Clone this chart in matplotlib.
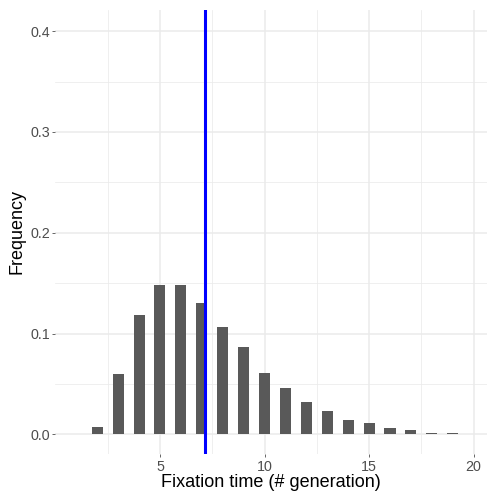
import matplotlib
matplotlib.use("Agg")
import matplotlib.pyplot as plt
import numpy as np

# distribution of fixation times
fix_time = list(range(2, 20))
freq = [0.0075, 0.060, 0.118, 0.148, 0.148, 0.130, 0.1065, 0.0867, 0.0608,
        0.046, 0.032, 0.023, 0.0142, 0.0112, 0.0063, 0.0043, 0.0013, 0.0013]
mean_time = 7.17

x_major = [5, 10, 15, 20]
x_minor = [2.5, 7.5, 12.5, 17.5]
y_major = [0.0, 0.1, 0.2, 0.3, 0.4]
y_minor = [0.05, 0.15, 0.25, 0.35]

plt.rcParams['font.family'] = ['Liberation Sans', 'DejaVu Sans']

W, H = 487, 498
fig = plt.figure(figsize=(W / 100, H / 100), dpi=100)
ax = fig.add_axes([55.4 / W, 44 / H, 1 - 55.4 / W, 444 / H])

ax.bar(fix_time, freq, width=0.53, color='#595959', zorder=2)
ax.axvline(mean_time, color='#0000FF', lw=2.2, zorder=3)

ax.set_xlim(0, 20.64)
ax.set_ylim(-0.0195, 0.421)

ax.set_xticks(x_major)
ax.set_xticks(x_minor, minor=True)
ax.set_yticks(y_major)
ax.set_yticks(y_minor, minor=True)
ax.set_yticklabels([f"{v:.1f}" for v in y_major])

ax.grid(which='major', color='#EBEBEB', lw=1.1, zorder=0)
ax.grid(which='minor', color='#EBEBEB', lw=0.55, zorder=0)
ax.set_axisbelow(True)

for s in ax.spines.values():
    s.set_visible(False)

ax.tick_params(which='major', length=2.5, width=0.6, color='#4D4D4D',
               labelcolor='#4D4D4D', labelsize=10.3, pad=1.5)
ax.tick_params(which='minor', length=0)

ax.set_xlabel('Fixation time (# generation)', fontsize=13, labelpad=0)
ax.set_ylabel('Frequency', fontsize=13, labelpad=3)

fig.savefig('out.png', dpi=100)
